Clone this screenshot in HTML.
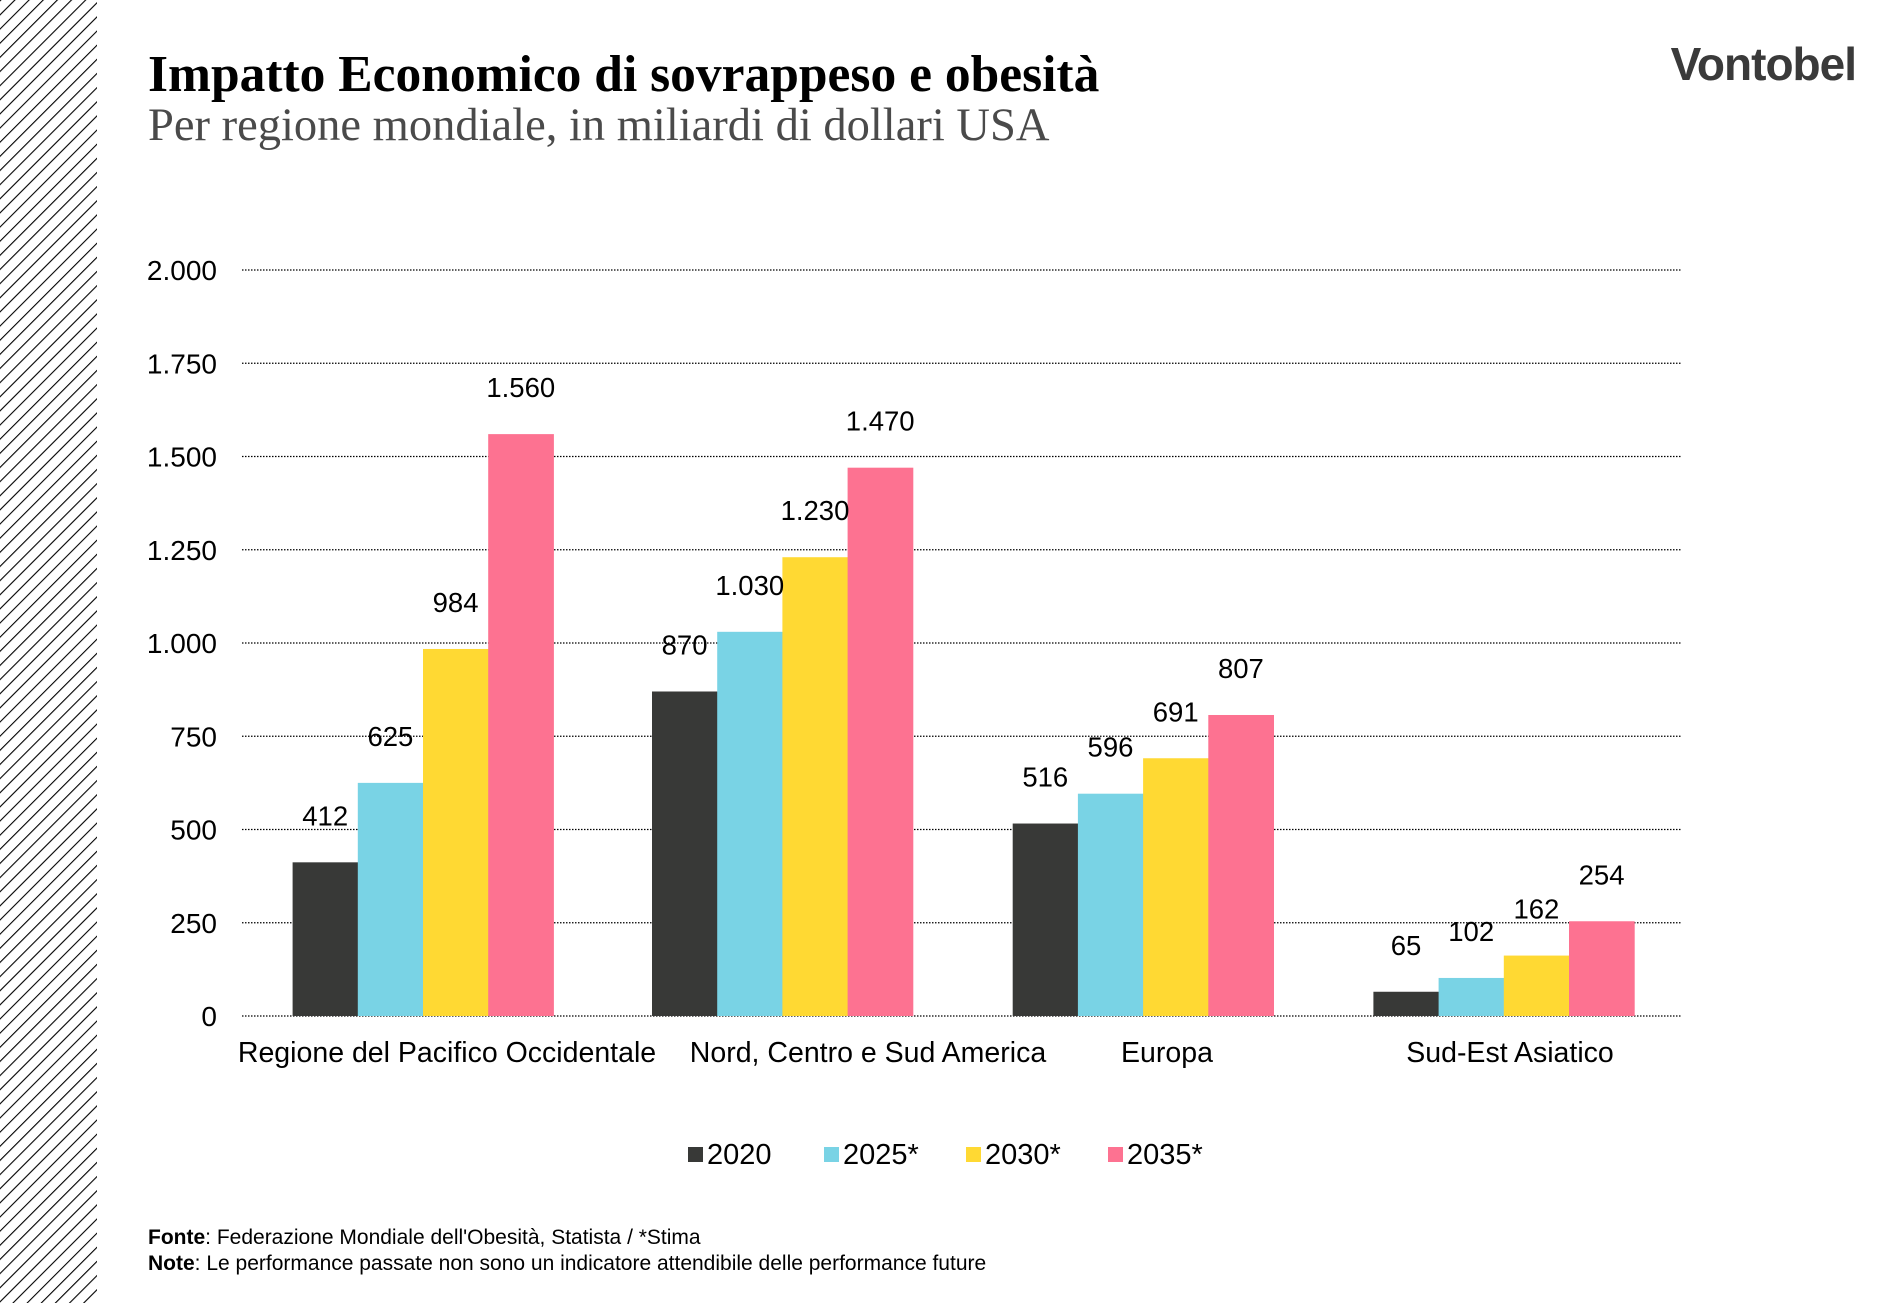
<!DOCTYPE html>
<html><head><meta charset="utf-8"><style>
body{margin:0;width:1904px;height:1303px;background:#fff;overflow:hidden;font-family:"Liberation Sans",sans-serif;}
</style></head><body>
<svg width="1904" height="1303" xmlns="http://www.w3.org/2000/svg" id="chart">
<defs><pattern id="hatch" patternUnits="userSpaceOnUse" width="10" height="10" patternTransform="rotate(45)">
<line x1="0" y1="0" x2="0" y2="10" stroke="#000" stroke-width="2.2"/></pattern></defs>
<rect x="0" y="0" width="97" height="1303" fill="url(#hatch)"/>
<text x="148" y="91" font-family="Liberation Serif, serif" font-weight="bold" font-size="51.5" fill="#000">Impatto Economico di sovrappeso e obesità</text>
<text x="148" y="140" font-family="Liberation Serif, serif" font-size="46.5" fill="#4a4a4a">Per regione mondiale, in miliardi di dollari USA</text>
<text x="1856" y="80" text-anchor="end" font-family="Liberation Sans, sans-serif" font-weight="bold" font-size="46" fill="#3a3a3a" letter-spacing="-1">Vontobel</text>
<g id="grid"></g><g id="bars"></g><g id="labels"></g><g id="legend"></g>
<text x="148" y="1244" font-size="21" fill="#000"><tspan font-weight="bold">Fonte</tspan>: Federazione Mondiale dell'Obesità, Statista / *Stima</text>
<text x="148" y="1270" font-size="21" fill="#000"><tspan font-weight="bold">Note</tspan>: Le performance passate non sono un indicatore attendibile delle performance future</text>
</svg>
<script>
const categories = ["Regione del Pacifico Occidentale","Nord, Centro e Sud America","Europa","Sud-Est Asiatico"];
const series = ["2020","2025*","2030*","2035*"];
const v2020 = [412,870,516,65];
const v2025 = [625,1030,596,102];
const v2030 = [984,1230,691,162];
const v2035 = [1560,1470,807,254];
const valueLabels = [["412","870","516","65"],["625","1.030","596","102"],["984","1.230","691","162"],["1.560","1.470","807","254"]];
const yTicks = [0,250,500,750,1000,1250,1500,1750,2000];
const yTickLabels = ["0","250","500","750","1.000","1.250","1.500","1.750","2.000"];
const colors = ["#383937","#79d3e5","#ffd933","#fd7291"];
const allVals = [v2020,v2025,v2030,v2035];
const NS="http://www.w3.org/2000/svg";
const X0=242,X1=1682,Y0=1016,YTOP=270,VMAX=2000;
function y(v){return Y0-(v/VMAX)*(Y0-YTOP);}
const groupStart=[292.6,652,1012.7,1373.4];
const BW=65.2;
const labelCenter=[447,868,1167,1510];
function el(t,a,p){const e=document.createElementNS(NS,t);for(const k in a)e.setAttribute(k,a[k]);p.appendChild(e);return e;}
const grid=document.getElementById('grid'),bars=document.getElementById('bars'),labels=document.getElementById('labels'),legend=document.getElementById('legend');
yTicks.forEach((t,i)=>{
  const l=el('line',{x1:X0,x2:X1,y1:y(t),y2:y(t),stroke:'#000','stroke-width':1.2,'stroke-dasharray':'1.5 1.5'},grid);
  
  
  const tx=el('text',{x:217,y:y(t)+10,'text-anchor':'end','font-size':28,fill:'#000'},grid);
  tx.textContent=yTickLabels[i];
  
  
});
categories.forEach((c,ci)=>{
  allVals.forEach((arr,si)=>{
    const bx=groupStart[ci]+si*BW;
    const r=el('rect',{x:bx,y:y(arr[ci]),width:BW+0.5,height:Y0-y(arr[ci]),fill:colors[si]},bars);
    
    
    const t=el('text',{x:bx+BW/2,y:y(arr[ci])-37,'text-anchor':'middle','font-size':27.5,fill:'#000'},labels);
    t.textContent=valueLabels[si][ci];
    
    
  });
  const ct=el('text',{x:labelCenter[ci],y:1062,'text-anchor':'middle','font-size':28.5,fill:'#000'},labels);
  ct.textContent=c;
  
  
});
const legX=[688,824,966,1108];
series.forEach((s,i)=>{
  const r=el('rect',{x:legX[i],y:1147,width:15,height:15,fill:colors[i]},legend);
  
  
  const t=el('text',{x:legX[i]+19,y:1164,'font-size':29,fill:'#000'},legend);
  t.textContent=s;
  
  
});
</script>
</body></html>
